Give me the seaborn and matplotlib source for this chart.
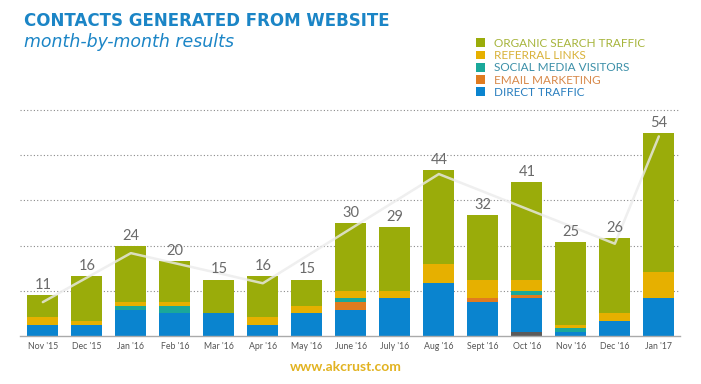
import numpy as np
import pandas as pd
import matplotlib
matplotlib.use("Agg")
import matplotlib.pyplot as plt
from matplotlib.patches import Patch
import seaborn as sns

# monthly contacts, by source (bottom of stack first)
months = ["Nov '15", "Dec '15", "Jan '16", "Feb '16", "Mar '16", "Apr '16", "May '16",
          "June '16", "July '16", "Aug '16", "Sept '16", "Oct '16", "Nov '16", "Dec '16", "Jan '17"]
other = [0, 0, 0, 0, 0, 0, 0, 0, 0, 0, 0, 1, 0, 0, 0]
direct = [3, 3, 7, 6, 6, 3, 6, 7, 10, 14, 9, 9, 1, 4, 10]
email = [0, 0, 0, 0, 0, 0, 0, 2, 0, 0, 1, 1, 0, 0, 0]
social = [0, 0, 1, 2, 0, 0, 0, 1, 0, 0, 0, 1, 1, 0, 0]
referral = [2, 1, 1, 1, 0, 2, 2, 2, 2, 5, 5, 3, 1, 2, 7]
organic = [6, 12, 15, 11, 9, 11, 7, 18, 17, 25, 17, 26, 22, 20, 37]

# faint trend line drawn over the bars
trend_months = ["Nov '15", "Jan '16", "Apr '16", "Aug '16", "Dec '16", "Jan '17"]
trend_vals = [9, 22, 14, 43, 24.5, 53]

series = [
    ("Other", other, "#5b5b5b", None),
    ("DIRECT TRAFFIC", direct, "#0a84cf", "#2a7fbf"),
    ("EMAIL MARKETING", email, "#e07b1f", "#d8894a"),
    ("SOCIAL MEDIA VISITORS", social, "#1aa89a", "#3b8fa8"),
    ("REFERRAL LINKS", referral, "#e6b000", "#d9b23a"),
    ("ORGANIC SEARCH TRAFFIC", organic, "#9aac0a", "#a6b43a"),
]

sns.set_style("white")
plt.rcParams["font.family"] = ["Lato", "DejaVu Sans"]

fig = plt.figure(figsize=(7.01, 3.84), dpi=100)
ax = fig.add_axes([0.0285, 0.125, 0.9415, 0.5885])

df = pd.DataFrame({"month": months})
cum = np.zeros(len(months))
cums = []
for name, vals, col, _ in series:
    cum = cum + np.array(vals)
    cums.append(cum.copy())

# draw cumulative bars from the top layer down so lower layers sit in front
for (name, vals, col, _), c in reversed(list(zip(series, cums))):
    df["v"] = c
    sns.barplot(data=df, x="month", y="v", color=col, width=0.70,
                saturation=1, ax=ax, zorder=2, linewidth=0)

totals = cums[-1]
for i, t in enumerate(totals):
    ax.text(i, t + 0.8, f"{int(t)}", ha="center", va="bottom",
            fontsize=10.5, color="#6a6a6a", zorder=4)

trend_x = [months.index(m) for m in trend_months]
sns.lineplot(x=trend_x, y=trend_vals, color="#ebebeb", alpha=0.8,
             linewidth=1.8, ax=ax, zorder=3, sort=False)

ax.set_xlim(-0.52, 14.48)
ax.set_ylim(0, 60)
ax.set_yticks([12, 24, 36, 48, 60])
ax.yaxis.grid(True, color="#8a8a8a", linestyle=(0, (1, 2)), linewidth=0.8)
ax.set_axisbelow(True)
ax.set_yticklabels([])
ax.tick_params(axis="y", length=0)
ax.tick_params(axis="x", length=0, labelsize=6.3, labelcolor="#555555", pad=4)
ax.set_xlabel("")
ax.set_ylabel("")
for s in ["top", "right", "left"]:
    ax.spines[s].set_visible(False)
ax.spines["bottom"].set_color("#aaaaaa")
ax.spines["bottom"].set_linewidth(1.0)
for gl in ax.get_ygridlines():
    gl.set_clip_on(False)

# legend (top layer first), text tinted like the series
handles = [Patch(facecolor=col, edgecolor="none") for _, _, col, _ in reversed(series[1:])]
labels = [name for name, _, _, _ in reversed(series[1:])]
tcolors = [tc for _, _, _, tc in reversed(series[1:])]
leg = fig.legend(handles, labels, loc="upper left", bbox_to_anchor=(0.672, 0.914),
                 frameon=False, fontsize=8.5, handlelength=0.75, handleheight=0.75,
                 handletextpad=0.8, labelspacing=0.11, borderaxespad=0)
for txt, c in zip(leg.get_texts(), tcolors):
    txt.set_color(c)

fig.text(0.034, 0.945, "CONTACTS GENERATED FROM WEBSITE", fontsize=12,
         fontweight="bold", color="#1b85c6", va="center", ha="left",
         family=["DejaVu Sans"])
fig.text(0.034, 0.89, "month-by-month results", fontsize=12.5, style="italic",
         color="#1b85c6", va="center", ha="left", family=["DejaVu Sans"])
fig.text(0.493, 0.045, "www.akcrust.com", fontsize=10, fontweight="bold",
         color="#e2b321", va="center", ha="center")

fig.savefig("out.png", dpi=100, facecolor="white")
